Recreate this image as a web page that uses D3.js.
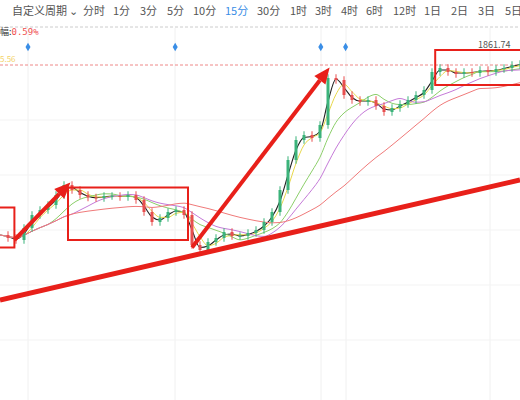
<!DOCTYPE html><html><head><meta charset="utf-8"><script src="https://cdn.jsdelivr.net/npm/d3@7"></script>
<style>body{margin:0;background:#fff}svg{font-family:"Noto Sans CJK SC","Noto Sans",sans-serif}</style></head><body><svg id="c" width="520" height="400"></svg><script>
const periods=["自定义周期 ⌄","分时","1分","3分","5分","10分","15分","30分","1时","3时","4时","6时","12时","1日","2日","3日","5日"];
const periodX=[12,83,113,140,167,193,225,257,290,315,341,366,393,424,451,478,505];
const closes=[1806,1804.8,1804,1808.8,1814,1816,1818,1822,1826,1824,1822,1821,1820.8,1821.6,1821.6,1821.2,1822,1820,1815.2,1811.2,1812.8,1815.2,1816,1814,1802,1800,1803.2,1804.8,1807.2,1805.6,1805.6,1806.8,1808,1811.2,1815.2,1824,1836,1844,1846,1844.8,1850,1868.8,1868,1862,1860,1859.2,1860,1857.6,1855.2,1856.8,1858.4,1860,1862,1864,1871.2,1872.8,1871.2,1870.4,1871.2,1870.8,1872,1871.2,1872.4,1872.8,1874,1874.4];
const maPeriods=[5,10,20,30,60];
const maColors=["#222","#e8d84a","#8ccf6a","#c57ad8","#f07a7a"];
const boxes=[[-1,1817,1.8,1801],[8.5,1825,23.5,1804],[54.4,1880,66,1866]];
const arrows=[[1.8,1804,8.8,1827],[24,1801,41.2,1873]];
const trend=[[0,1780],[65,1828]];
const diamondIdx=[3.5,21.9,40.1,43.2];
const svg=d3.select("#c");
const x=d3.scaleLinear().domain([0,65]).range([0,520]);
const y=d3.scaleLinear().domain([1800,1874]).range([250,65]);
// toolbar
svg.selectAll(".p").data(periods).join("text").attr("x",(d,i)=>periodX[i]).attr("y",15).attr("font-size",11).attr("fill",(d)=>d==="15分"?"#3a8ee6":"#555").text(d=>d);
svg.append("line").attr("x1",0).attr("x2",520).attr("y1",27).attr("y2",27).attr("stroke","#ccc").attr("stroke-dasharray","3,2");
// grid
[28,175,321,346,490].forEach(v=>svg.append("line").attr("x1",v).attr("x2",v).attr("y1",28).attr("y2",400).attr("stroke","#f0f0f0"));
[120,175,230,285,340].forEach(v=>svg.append("line").attr("x1",0).attr("x2",520).attr("y1",v).attr("y2",v).attr("stroke","#f3f3f3"));
svg.append("text").attr("x",0).attr("y",35).attr("font-size",9).attr("fill","#333").text("幅:").append("tspan").attr("fill","#f05050").attr("font-family","DejaVu Sans Mono").text("0.59%");
svg.append("text").attr("x",0).attr("y",62).attr("font-size",8).attr("fill","#f3d36a").text("5.56");
svg.append("line").attr("x1",0).attr("x2",520).attr("y1",y(1874)).attr("y2",y(1874)).attr("stroke","#e88").attr("stroke-dasharray","3,2");
svg.selectAll(".dm").data(diamondIdx).join("path").attr("d",d3.symbol(d3.symbolDiamond,22)).attr("transform",d=>`translate(${x(d)},47)`).attr("fill","#3a8ee6");
svg.append("text").attr("x",478).attr("y",48).attr("font-size",9).attr("fill","#555").text("1861.74");
// MAs
maPeriods.forEach((p,k)=>{const ma=closes.map((c,i)=>{const s=closes.slice(Math.max(0,i-Math.round(p/3)+1),i+1);return d3.mean(s)});
 svg.append("path").attr("d",d3.line().x((d,i)=>x(i)).y(d=>y(d)).curve(d3.curveMonotoneX)(ma)).attr("fill","none").attr("stroke",maColors[k]).attr("stroke-width",k===0?1.1:1);});
// candles
closes.forEach((c,i)=>{if(!i)return;const o=closes[i-1];const up=c>=o;const col=up?"#3bb37a":"#e84f4f";
 svg.append("line").attr("x1",x(i)).attr("x2",x(i)).attr("y1",y(Math.max(o,c)+1.5)).attr("y2",y(Math.min(o,c)-1.5)).attr("stroke",col);
 svg.append("rect").attr("x",x(i)-1.5).attr("width",3).attr("y",y(Math.max(o,c))).attr("height",Math.max(1,Math.abs(y(o)-y(c)))).attr("fill",col);});
// annotations
svg.selectAll(".bx").data(boxes).join("rect").attr("x",d=>x(d[0])).attr("y",d=>y(d[1])).attr("width",d=>x(d[2])-x(d[0])).attr("height",d=>y(d[3])-y(d[1])).attr("fill","none").attr("stroke","#e8201a").attr("stroke-width",2);
svg.append("line").attr("x1",x(trend[0][0])).attr("y1",y(trend[0][1])).attr("x2",x(trend[1][0])).attr("y2",y(trend[1][1])).attr("stroke","#e8201a").attr("stroke-width",5);
arrows.forEach(a=>{const x1=x(a[0]),y1=y(a[1]),x2=x(a[2]),y2=y(a[3]);const ang=Math.atan2(y2-y1,x2-x1);const L=16,W=7;
 const bx=x2-L*Math.cos(ang),by=y2-L*Math.sin(ang);
 svg.append("line").attr("x1",x1).attr("y1",y1).attr("x2",bx).attr("y2",by).attr("stroke","#e8201a").attr("stroke-width",4);
 svg.append("path").attr("d",`M${x2},${y2}L${bx-W*Math.sin(ang)},${by+W*Math.cos(ang)}L${bx+W*Math.sin(ang)},${by-W*Math.cos(ang)}Z`).attr("fill","#e8201a");});
</script></body></html>
